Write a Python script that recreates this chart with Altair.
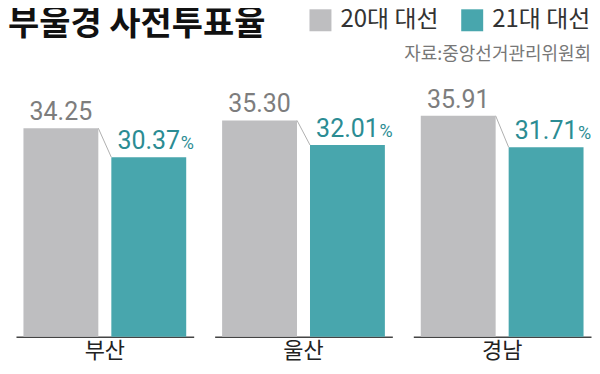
import altair as alt
import pandas as pd

regions = ["부산", "울산", "경남"]
series = ["20대 대선", "21대 대선"]
codes = ["a", "b"]
v20 = [34.25, 35.30, 35.91]
v21 = [30.37, 32.01, 31.71]
title_text = "부울경 사전투표율"
source_text = "자료:중앙선거관리위원회"

rows = []
for i, r in enumerate(regions):
    rows.append({"region": r, "series": series[0], "code": codes[0], "value": v20[i]})
    rows.append({"region": r, "series": series[1], "code": codes[1], "value": v21[i]})
df = pd.DataFrame(rows)

KR = "Noto Sans CJK KR"
NUM = "Roboto"
GRAY = "#bebec0"
TEAL = "#48a6ad"

y_scale = alt.Scale(domain=[6.4, 41.87], clamp=True, nice=False, zero=False)
x_scale = alt.Scale(domain=series, paddingInner=0.148, paddingOuter=0.085)
x_axis = alt.Axis(labels=False, ticks=False, title=None, domainColor="#444",
                  domainWidth=1.5, grid=False)

bars = alt.Chart().mark_bar().encode(
    x=alt.X("series:N", scale=x_scale, axis=x_axis),
    y=alt.Y("value:Q", scale=y_scale, axis=None),
    color=alt.Color(
        "series:N",
        scale=alt.Scale(domain=series, range=[GRAY, TEAL]),
        legend=alt.Legend(
            orient="none", legendX=293, legendY=-63, direction="horizontal",
            title=None, symbolType="square", symbolSize=484, symbolStrokeWidth=0,
            labelFontSize=24, labelFont=KR, labelColor="#333", labelOffset=8,
            columnPadding=21, padding=0,
        ),
    ),
)

conn = alt.Chart().transform_pivot(
    "code", value="value", groupby=["region"]
).transform_calculate(
    sa="'20대 대선'", sb="'21대 대선'"
).mark_rule(color="#b0b0b0", strokeWidth=1).encode(
    x=alt.X("sa:N", bandPosition=1, scale=x_scale, axis=x_axis),
    x2=alt.X2("sb:N", bandPosition=0),
    y=alt.Y("a:Q", scale=y_scale, axis=None),
    y2="b:Q",
)

lab_a = alt.Chart().transform_filter("datum.code == 'a'").mark_text(
    font=NUM, fontSize=25, color="#7d7d7d", baseline="alphabetic", dy=-8
).encode(
    x=alt.X("series:N", scale=x_scale, axis=x_axis),
    y=alt.Y("value:Q", scale=y_scale, axis=None),
    text=alt.Text("value:Q", format=".2f"),
)

lab_b = alt.Chart().transform_filter("datum.code == 'b'").mark_text(
    font=NUM, fontSize=25, color="#2b8c93", baseline="alphabetic", dy=-8
).encode(
    x=alt.X("series:N", scale=x_scale, axis=x_axis),
    y=alt.Y("value:Q", scale=y_scale, axis=None),
    text=alt.Text("value:Q", format=".2f"),
)

pct = alt.Chart().transform_filter("datum.code == 'b'").mark_text(
    font=NUM, fontSize=18, color="#2b8c93", baseline="alphabetic", align="left",
    dx=32, dy=-8
).encode(
    x=alt.X("series:N", scale=x_scale, axis=x_axis),
    y=alt.Y("value:Q", scale=y_scale, axis=None),
    text=alt.value("%"),
)

src = alt.Chart().transform_filter(
    "datum.region == '경남' && datum.code == 'a'"
).mark_text(
    font=KR, fontSize=18, color="#777", baseline="alphabetic", align="right"
).encode(
    x=alt.value(178), y=alt.value(-11), text=alt.value(source_text),
)

ttl = alt.Chart().transform_filter(
    "datum.region == '부산' && datum.code == 'a'"
).mark_text(
    font=KR, fontSize=34, fontWeight="bold", color="#111", baseline="alphabetic",
    align="left"
).encode(
    x=alt.value(-8), y=alt.value(-36), text=alt.value(title_text),
)

layered = alt.layer(bars, conn, lab_a, lab_b, pct, src, ttl, data=df).properties(
    width=178, height=266
)

chart = layered.facet(
    column=alt.Column(
        "region:N", sort=regions,
        header=alt.Header(title=None, labelOrient="bottom", labelFontSize=22,
                          labelFont=KR, labelColor="#222", labelPadding=4),
    ),
    spacing=21,
    bounds="flush",
).properties(
    padding={"left": 0, "top": 0, "right": 0, "bottom": 0},
).configure_view(stroke=None)

chart.save("out.html", embed_options={"renderer": "svg", "actions": False})
